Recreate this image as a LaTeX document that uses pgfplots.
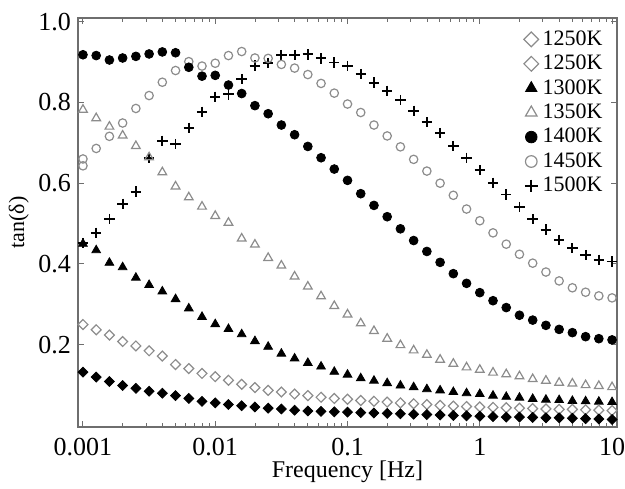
\documentclass[border=0pt]{standalone}
\usepackage{pgfplots}
\pgfplotsset{compat=1.18}
\usepackage{pgfplotstable}
\usepackage{fontspec}
\setmainfont{Liberation Serif}
\definecolor{mgray}{RGB}{140,140,140}
\definecolor{axgray}{RGB}{110,110,110}

\pgfplotstableread{
f dfill dopen tfill topen cfill copen plus
0.001     0.132 0.250 0.450 0.782 0.918 0.660 0.452
0.0012589 0.120 0.237 0.434 0.761 0.916 0.686 0.477
0.0015849 0.109 0.224 0.403 0.740 0.905 0.716 0.511
0.0019953 0.099 0.208 0.392 0.718 0.910 0.749 0.549
0.0025119 0.092 0.197 0.366 0.692 0.914 0.785 0.579
0.0031623 0.085 0.185 0.348 0.664 0.920 0.817 0.662
0.0039811 0.080 0.172 0.332 0.627 0.925 0.850 0.705
0.0050119 0.074 0.151 0.313 0.592 0.923 0.879 0.697
0.0063096 0.067 0.141 0.290 0.565 0.887 0.901 0.737
0.0079433 0.060 0.129 0.269 0.542 0.865 0.890 0.777
0.01      0.056 0.121 0.251 0.519 0.867 0.897 0.814
0.012589  0.052 0.112 0.239 0.502 0.843 0.916 0.820
0.015849  0.049 0.102 0.226 0.463 0.822 0.926 0.858
0.019953  0.046 0.094 0.209 0.448 0.792 0.910 0.891
0.025119  0.043 0.087 0.195 0.415 0.772 0.909 0.898
0.031623  0.041 0.083 0.178 0.396 0.744 0.894 0.917
0.039811  0.038 0.078 0.166 0.369 0.720 0.885 0.917
0.050119  0.036 0.074 0.155 0.344 0.691 0.869 0.919
0.063096  0.035 0.070 0.146 0.320 0.663 0.847 0.909
0.079433  0.034 0.067 0.133 0.296 0.635 0.823 0.899
0.1       0.033 0.065 0.126 0.275 0.607 0.796 0.890
0.12589   0.032 0.062 0.117 0.253 0.574 0.775 0.870
0.15849   0.031 0.060 0.111 0.234 0.545 0.744 0.849
0.19953   0.030 0.058 0.105 0.215 0.517 0.717 0.829
0.25119   0.029 0.056 0.099 0.199 0.487 0.690 0.806
0.31623   0.028 0.054 0.095 0.186 0.458 0.659 0.779
0.39811   0.027 0.052 0.090 0.175 0.431 0.630 0.751
0.50119   0.026 0.050 0.087 0.163 0.404 0.600 0.724
0.63096   0.025 0.048 0.083 0.153 0.376 0.570 0.692
0.79433   0.024 0.047 0.080 0.144 0.352 0.536 0.663
1         0.023 0.046 0.078 0.138 0.329 0.507 0.632
1.2589    0.022 0.045 0.074 0.131 0.309 0.477 0.601
1.5849    0.021 0.044 0.071 0.127 0.292 0.449 0.572
1.9953    0.021 0.043 0.069 0.122 0.273 0.424 0.541
2.5119    0.020 0.042 0.066 0.115 0.261 0.402 0.511
3.1623    0.019 0.041 0.064 0.111 0.248 0.380 0.485
3.9811    0.019 0.040 0.063 0.106 0.238 0.358 0.460
5.0119    0.018 0.040 0.061 0.104 0.230 0.341 0.439
6.3096    0.017 0.039 0.060 0.100 0.220 0.330 0.422
7.9433    0.016 0.038 0.059 0.098 0.215 0.321 0.410
10        0.015 0.037 0.058 0.095 0.212 0.316 0.406
}\datatable

\begin{document}
\begin{tikzpicture}
\path[use as bounding box] (-39pt,-30.5pt) rectangle (273.5pt,213.5pt);
\begin{axis}[
  at={(0,0)}, anchor=south west,
  scale only axis, width=269.5pt, height=204.5pt,
  xmode=log, xmin=0.000917, xmax=10.9,
  ymin=-0.0037, ymax=1.009,
  xtick={0.001,0.01,0.1,1,10},
  xticklabels={\mbox{0.001},\mbox{0.01},\mbox{0.1},\mbox{1},\mbox{10}},
  ytick={0.2,0.4,0.6,0.8,1.0},
  yticklabels={\mbox{0.2},\mbox{0.4},\mbox{0.6},\mbox{0.8},\mbox{1.0}},
  /pgf/number format/assume math mode=true,
  tick label style={font=\fontsize{13}{15}\selectfont},
  xticklabel style={yshift=-2pt},
  xlabel={Frequency [Hz]},
  ylabel={tan(δ)},
  xlabel style={font=\fontsize{12}{14}\selectfont, yshift=4.5pt},
  ylabel style={font=\fontsize{11}{13}\selectfont, yshift=-2pt},
  axis line style={draw=axgray, line width=0.8pt},
  tick style={draw=axgray, line width=0.5pt},
  major tick length=3pt, minor tick length=2pt,
  legend style={draw=none, fill=none, at={(0.985,0.985)}, anchor=north east,
    font=\fontsize{11}{11}\selectfont, row sep=-0.6pt, inner sep=1pt,
    /tikz/every even column/.append style={column sep=0pt}},
  legend cell align=left,
  clip=false,
]
\addplot[only marks, mark=+, mark size=2.6pt, line width=0.9pt, black, forget plot] table[x=f, y=plus] {\datatable};
\addplot[only marks, mark=o, mark size=2.1pt, line width=0.6pt, mgray, forget plot] table[x=f, y=copen] {\datatable};
\addplot[only marks, mark=o, mark size=2.1pt, line width=0.6pt, mgray, forget plot] coordinates {(0.001,0.643)};
\addplot[only marks, mark=*, mark size=2.2pt, black, forget plot] table[x=f, y=cfill] {\datatable};
\addplot[only marks, mark=triangle, mark size=2.5pt, line width=0.6pt, mgray, forget plot] table[x=f, y=topen] {\datatable};
\addplot[only marks, mark=triangle*, mark size=2.5pt, black, forget plot] table[x=f, y=tfill] {\datatable};
\addplot[only marks, mark=square, mark size=1.75pt, line width=0.6pt, mgray, every mark/.append style={rotate=45}, forget plot] table[x=f, y=dopen] {\datatable};
\addplot[only marks, mark=square*, mark size=1.75pt, black, every mark/.append style={rotate=45}, forget plot] table[x=f, y=dfill] {\datatable};

\addlegendimage{only marks, mark=square, mark size=2.6pt, line width=0.6pt, mgray, every mark/.append style={rotate=45}}
\addlegendentry{1250K}
\addlegendimage{only marks, mark=square, mark size=2.6pt, line width=0.6pt, mgray, every mark/.append style={rotate=45}}
\addlegendentry{1250K}
\addlegendimage{only marks, mark=triangle*, mark size=3.3pt, black}
\addlegendentry{1300K}
\addlegendimage{only marks, mark=triangle, mark size=3.3pt, line width=0.6pt, mgray}
\addlegendentry{1350K}
\addlegendimage{only marks, mark=*, mark size=2.9pt, black}
\addlegendentry{1400K}
\addlegendimage{only marks, mark=o, mark size=2.9pt, line width=0.6pt, mgray}
\addlegendentry{1450K}
\addlegendimage{only marks, mark=+, mark size=3.2pt, line width=1pt, black}
\addlegendentry{1500K}
\end{axis}
\end{tikzpicture}
\end{document}
